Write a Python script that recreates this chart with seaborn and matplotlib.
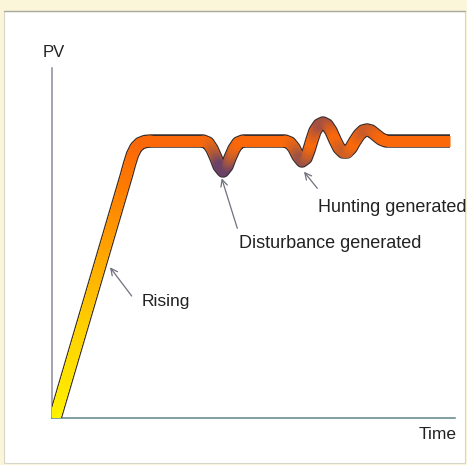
import numpy as np
import pandas as pd
import matplotlib
matplotlib.use("Agg")
import matplotlib.pyplot as plt
import seaborn as sns
from matplotlib.collections import LineCollection
from matplotlib.colors import to_rgb
from matplotlib.patches import Rectangle

# ---- data (time, process value) ----
time = [0.7, 74.5, 77.5, 80.5, 84, 88, 93, 99,
        151, 156, 160, 164, 167, 171, 175, 178, 182, 186, 191,
        233, 238, 242, 246, 250, 254, 257, 260, 263, 267, 271, 275, 279,
        283, 287, 291, 295, 299, 303, 307, 311, 315, 319, 324, 329, 334, 398]
pv = [-8, 243, 254, 263.5, 270.5, 274.5, 276.5, 277,
      277, 275, 269, 260, 252, 247, 252, 260, 269, 275, 277,
      277, 275, 270, 262, 257, 260, 268, 278, 287, 293, 295, 293, 287,
      278, 270, 266, 266, 270, 277, 283, 287, 288, 287, 283, 279, 277, 277]
setpoint = 277

labels = ["Rising", "Disturbance generated", "Hunting generated"]
label_size = [12.5, 13, 13]
label_pos = [(90, 112), (187, 170), (266, 206)]
arrow_tips = [(58, 150.7), (169.7, 239.7), (252, 246.3)]
arrow_tails = [(79.7, 122), (185.3, 189.7), (265.3, 229.7)]

W, H = 467, 465
sns.set_style("white")
plt.rcParams['font.family'] = ['Liberation Sans', 'DejaVu Sans']

fig = plt.figure(figsize=(W / 100, H / 100), dpi=100)
fig.patch.set_facecolor('#FBF6D9')
panel = Rectangle((4 / W, 2 / H), 461 / W, 452 / H, transform=fig.transFigure,
                  facecolor='white', edgecolor='#D8D6C8', linewidth=0.8, zorder=-5)
fig.patches.append(panel)
fig.add_artist(plt.Line2D([4 / W, 465 / W], [454 / H, 454 / H], transform=fig.transFigure,
                          color='#A9A89C', lw=1.0, zorder=-4))

ax = fig.add_axes([52 / W, (H - 418) / H, 403 / W, 350 / H])
ax.set_zorder(2)
ax.set_facecolor('none')
ax.set_xlim(0, 403)
ax.set_ylim(0, 350)
ax.set_xticks([])
ax.set_yticks([])
for s in ['top', 'right']:
    ax.spines[s].set_visible(False)
ax.spines['left'].set_color('#8C8C9C')
ax.spines['bottom'].set_color('#5F8585')
ax.spines['left'].set_linewidth(1.1)
ax.spines['bottom'].set_linewidth(1.1)

df = pd.DataFrame({"Time": time, "PV": pv})
px = 0.72  # points per pixel
sns.lineplot(data=df, x="Time", y="PV", ax=ax, sort=False, estimator=None,
             color='#3A2E2E', linewidth=13.5 * px, zorder=3)
for ln in ax.lines:
    ln.set_solid_capstyle('butt')
    ln.set_solid_joinstyle('round')


def mix(c1, c2, f):
    c1, c2 = np.array(to_rgb(c1)), np.array(to_rgb(c2))
    return tuple(c1 * (1 - f) + c2 * f)


stops = [(0.0, '#FFF400'), (0.35, '#FFD000'), (0.65, '#FFA000'), (0.85, '#FF7C00'), (1.0, '#FA680A')]


def base_color(v):
    t = float(np.clip(v / setpoint, 0, 1))
    for (t0, c0), (t1, c1) in zip(stops[:-1], stops[1:]):
        if t <= t1:
            return mix(c0, c1, (t - t0) / (t1 - t0))
    return to_rgb(stops[-1][1])


def color_at(t, v):
    c = base_color(v)
    if t > 95:
        d = abs(v - setpoint)
        f = float(np.clip(d / 26, 0, 1)) ** 1.3
        c = mix(c, '#5A3C72', 0.9 * f)
    return c


# colored band drawn over the dark outline, subdivided for a smooth gradient
segs, cols = [], []
xs = np.array(time, float)
ys = np.array(pv, float)
for i in range(len(xs) - 2):
    n = max(1, int(np.hypot(xs[i + 1] - xs[i], ys[i + 1] - ys[i]) / 1.5))
    for k in range(n):
        a = k / n
        b = (k + 1) / n
        x0, y0 = xs[i] + (xs[i + 1] - xs[i]) * a, ys[i] + (ys[i + 1] - ys[i]) * a
        x1, y1 = xs[i] + (xs[i + 1] - xs[i]) * b, ys[i] + (ys[i + 1] - ys[i]) * b
        segs.append([(x0, y0), (x1, y1)])
        cols.append(color_at((x0 + x1) / 2, (y0 + y1) / 2))
lc = LineCollection(segs, colors=cols, linewidths=11 * px, capstyle='round', zorder=4)
ax.add_collection(lc)
ax.plot(time[-2:], pv[-2:], color=color_at(time[-1], pv[-1]), lw=11 * px,
        solid_capstyle='butt', zorder=5)

ax.text(-9, 361, "PV", fontsize=12, color='#222222', va='baseline', ha='left', clip_on=False)
ax.text(367, -21, "Time", fontsize=12.5, color='#222222', va='baseline', ha='left', clip_on=False)
for lab, fsz, (lx, ly) in zip(labels, label_size, label_pos):
    ax.text(lx, ly, lab, fontsize=fsz, color='#222222', va='baseline', ha='left', clip_on=False)
for tip, tail in zip(arrow_tips, arrow_tails):
    ax.annotate('', xy=tip, xytext=tail,
                arrowprops=dict(arrowstyle='->', color='#70707E', lw=0.9,
                                shrinkA=0, shrinkB=0, mutation_scale=12))

fig.savefig("out.png", dpi=100, facecolor=fig.get_facecolor())
